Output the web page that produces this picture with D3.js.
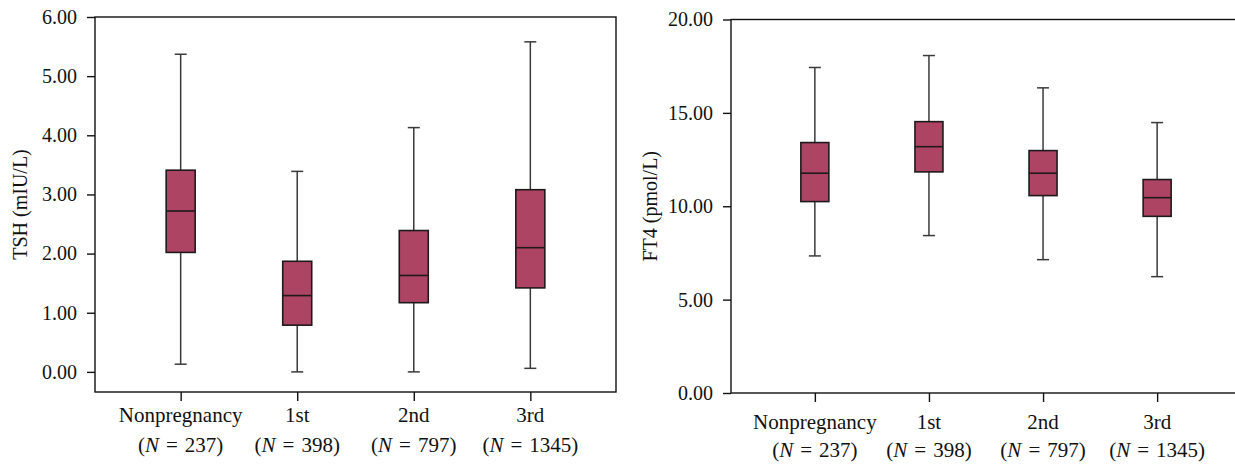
<!DOCTYPE html>
<html>
<head>
<meta charset="utf-8">
<script src="https://d3js.org/d3.v7.min.js"></script>
<style>
  html, body { margin: 0; padding: 0; background: #fff; }
  svg { display: block; }
  text { font-family: "Liberation Serif", "DejaVu Serif", serif; fill: #111; }
</style>
</head>
<body>
<svg id="chart" width="1235" height="464"></svg>
<script>
// ---- data ----
const categories = ["Nonpregnancy", "1st", "2nd", "3rd"];
const sampleSizes = [237, 398, 797, 1345];

const tshMin    = [0.13, 0.00, 0.00, 0.06];
const tshQ1     = [2.02, 0.79, 1.17, 1.42];
const tshMedian = [2.72, 1.29, 1.63, 2.10];
const tshQ3     = [3.41, 1.87, 2.39, 3.08];
const tshMax    = [5.37, 3.39, 4.13, 5.58];
const tshTicks  = [0, 1, 2, 3, 4, 5, 6];

const ft4Min    = [7.34, 8.43, 7.14, 6.23];
const ft4Q1     = [10.25, 11.84, 10.57, 9.46];
const ft4Median = [11.77, 13.19, 11.77, 10.46];
const ft4Q3     = [13.41, 14.53, 12.98, 11.43];
const ft4Max    = [17.43, 18.07, 16.34, 14.48];
const ft4Ticks  = [0, 5, 10, 15, 20];

const yLabels = ["TSH (mIU/L)", "FT4 (pmol/L)"];

// ---- drawing ----
const svg = d3.select("#chart");
const FILL = "#ad4463";
const BOX_STROKE = "#1e1a1c";
const WHISKER = "#3a3a3a";

function drawPanel(opt) {
  const { left, right, top, bottom, yDomain, ticks, mins, q1s, meds, q3s, maxs,
          yLabel, yLabelX, line1, line2, boxW } = opt;
  const g = svg.append("g");

  const x = d3.scalePoint().domain(categories).range([left, right]).padding(0.735);
  const y = d3.scaleLinear().domain(yDomain).range([bottom, top]);

  // frame
  g.append("rect")
    .attr("x", left).attr("y", top)
    .attr("width", right - left).attr("height", bottom - top)
    .attr("fill", "none").attr("stroke", "#111").attr("stroke-width", 1.4);

  // y axis
  const ya = g.append("g").attr("transform", `translate(${left},0)`)
    .call(d3.axisLeft(y).tickValues(ticks).tickSize(8).tickPadding(10)
      .tickFormat(d3.format(".2f")));
  ya.select(".domain").remove();
  ya.selectAll(".tick line").attr("stroke", "#111").attr("stroke-width", 1.4);
  ya.selectAll(".tick text").attr("font-size", 20)
    .attr("font-family", "Liberation Serif").attr("fill", "#111");

  // x axis ticks
  const xa = g.append("g").attr("transform", `translate(0,${bottom})`)
    .call(d3.axisBottom(x).tickSize(9).tickFormat(""));
  xa.select(".domain").remove();
  xa.selectAll(".tick line").attr("stroke", "#111").attr("stroke-width", 1.4);

  // x labels (two lines)
  categories.forEach((c, i) => {
    g.append("text")
      .attr("x", x(c)).attr("y", bottom + line1)
      .attr("text-anchor", "middle").attr("font-size", 21)
      .text(c);
    const t = g.append("text")
      .attr("x", x(c)).attr("y", bottom + line2)
      .attr("text-anchor", "middle").attr("font-size", 21)
      .attr("xml:space", "preserve");
    t.append("tspan").text("(");
    t.append("tspan").attr("font-style", "italic").text("N");
    t.append("tspan").text("\u2004=\u2004" + sampleSizes[i] + ")");
  });

  // y label
  g.append("text")
    .attr("transform", `translate(${yLabelX},${(top + bottom) / 2}) rotate(-90)`)
    .attr("text-anchor", "middle").attr("font-size", 20)
    .text(yLabel);

  // boxes
  const cap = 12;
  categories.forEach((c, i) => {
    const cx = x(c);
    // whiskers
    g.append("line").attr("x1", cx).attr("x2", cx)
      .attr("y1", y(maxs[i])).attr("y2", y(q3s[i]))
      .attr("stroke", WHISKER).attr("stroke-width", 1.5);
    g.append("line").attr("x1", cx).attr("x2", cx)
      .attr("y1", y(q1s[i])).attr("y2", y(mins[i]))
      .attr("stroke", WHISKER).attr("stroke-width", 1.5);
    g.append("line").attr("x1", cx - cap / 2).attr("x2", cx + cap / 2)
      .attr("y1", y(maxs[i])).attr("y2", y(maxs[i]))
      .attr("stroke", WHISKER).attr("stroke-width", 1.5);
    g.append("line").attr("x1", cx - cap / 2).attr("x2", cx + cap / 2)
      .attr("y1", y(mins[i])).attr("y2", y(mins[i]))
      .attr("stroke", WHISKER).attr("stroke-width", 1.5);
    // box
    g.append("rect")
      .attr("x", cx - boxW / 2).attr("width", boxW)
      .attr("y", y(q3s[i])).attr("height", y(q1s[i]) - y(q3s[i]))
      .attr("fill", FILL).attr("stroke", BOX_STROKE).attr("stroke-width", 1.6);
    // median
    g.append("line").attr("x1", cx - boxW / 2).attr("x2", cx + boxW / 2)
      .attr("y1", y(meds[i])).attr("y2", y(meds[i]))
      .attr("stroke", BOX_STROKE).attr("stroke-width", 1.6);
  });
}

drawPanel({
  left: 95, right: 616, top: 17, bottom: 392,
  yDomain: [-0.34, 6], ticks: tshTicks,
  mins: tshMin, q1s: tshQ1, meds: tshMedian, q3s: tshQ3, maxs: tshMax,
  yLabel: yLabels[0], yLabelX: 27, line1: 30, line2: 60, boxW: 29
});

drawPanel({
  left: 731, right: 1241, top: 19.5, bottom: 393,
  yDomain: [0, 20], ticks: ft4Ticks,
  mins: ft4Min, q1s: ft4Q1, meds: ft4Median, q3s: ft4Q3, maxs: ft4Max,
  yLabel: yLabels[1], yLabelX: 657, line1: 36, line2: 64, boxW: 28
});
</script>
</body>
</html>
